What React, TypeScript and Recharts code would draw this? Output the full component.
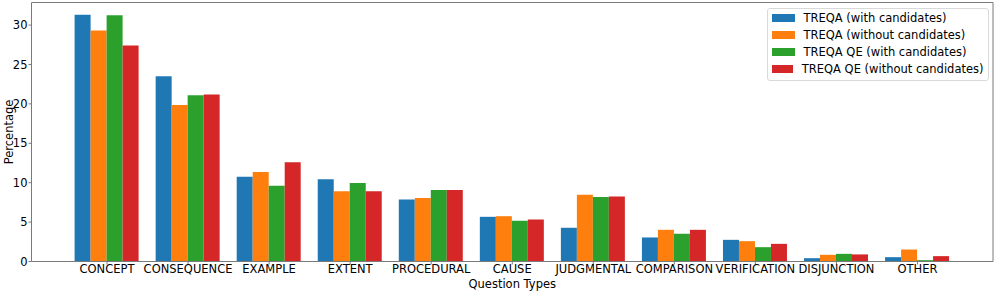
import { BarChart, Bar, XAxis, YAxis } from 'recharts';

const categories = [
  'CONCEPT', 'CONSEQUENCE', 'EXAMPLE', 'EXTENT', 'PROCEDURAL', 'CAUSE',
  'JUDGMENTAL', 'COMPARISON', 'VERIFICATION', 'DISJUNCTION', 'OTHER',
];
const treqaWith = [31.3, 23.5, 10.75, 10.45, 7.87, 5.67, 4.28, 3.05, 2.75, 0.42, 0.55];
const treqaWithout = [29.3, 19.86, 11.35, 8.93, 8.05, 5.75, 8.47, 4.02, 2.58, 0.85, 1.52];
const qeWith = [31.25, 21.08, 9.6, 9.95, 9.06, 5.17, 8.17, 3.52, 1.82, 0.97, 0.17];
const qeWithout = [27.4, 21.2, 12.6, 8.93, 9.06, 5.33, 8.25, 4.02, 2.24, 0.9, 0.68];
const yTicks = [0, 5, 10, 15, 20, 25, 30];

const series = [
  { key: 'a', name: 'TREQA (with candidates)', color: '#1f77b4', values: treqaWith },
  { key: 'b', name: 'TREQA (without candidates)', color: '#ff7f0e', values: treqaWithout },
  { key: 'c', name: 'TREQA QE (with candidates)', color: '#2ca02c', values: qeWith },
  { key: 'd', name: 'TREQA QE (without candidates)', color: '#d62728', values: qeWithout },
];

const data = categories.map((name, i) => {
  const row: Record<string, string | number> = { name };
  series.forEach((s) => (row[s.key] = s.values[i]));
  return row;
});

const yMax = Math.max(...series.flatMap((s) => s.values)) * 1.05;
const font = '"DejaVu Sans", sans-serif';
const axisColor = '#7a7a7a';

// matplotlib-style legend box, top right inside the axes
function LegendBox() {
  return (
    <div
      style={{
        position: 'absolute',
        left: 766.5,
        top: 7.5,
        width: 222,
        border: '1px solid #d9d9d9',
        borderRadius: 3,
        background: '#fff',
        padding: '1px 4px 2px 4px',
        fontFamily: font,
        fontSize: 11.5,
        color: '#000',
        boxSizing: 'border-box',
        whiteSpace: 'nowrap',
      }}
    >
      {series.map((s) => (
        <div key={s.key} style={{ display: 'flex', alignItems: 'center', height: 17 }}>
          <span style={{ width: 23, height: 8, background: s.color, marginRight: 9, display: 'inline-block' }} />
          <span>{s.name}</span>
        </div>
      ))}
    </div>
  );
}

function YLabel(props: any) {
  const vb = props.viewBox || { x: 0, y: 0, width: 0, height: 0 };
  const cx = 8.5;
  const cy = vb.y + vb.height / 2;
  return (
    <text
      x={cx}
      y={cy}
      transform={`rotate(-90 ${cx} ${cy})`}
      textAnchor="middle"
      dominantBaseline="central"
      fontFamily={font}
      fontSize={11.5}
      fill="#000"
    >
      Percentage
    </text>
  );
}

export default function App() {
  return (
    <div style={{ position: 'absolute', left: 0, top: 0, width: 997, height: 291, background: '#fff' }}>
      <style>{'body{margin:0;background:#fff}'}</style>
      <BarChart
        width={997}
        height={291}
        data={data}
        margin={{ top: 1.5, right: 3, left: 0, bottom: 0 }}
        barCategoryGap="10%"
        barGap={0}
      >
        <XAxis
          dataKey="name"
          height={29.5}
          padding={{ left: 35, right: 35 }}
          interval={0}
          tickSize={3}
          tickMargin={0}
          tickLine={{ stroke: axisColor }}
          axisLine={{ stroke: axisColor }}
          tick={{ fontFamily: font, fontSize: 11.5, fill: '#000' }}
          label={{ value: 'Question Types', position: 'insideBottom', offset: 3, style: { fontFamily: font, fontSize: 11.5, fill: '#000' } }}
        />
        <XAxis
          xAxisId="top"
          dataKey="name"
          orientation="top"
          height={1}
          tick={false}
          tickLine={false}
          axisLine={{ stroke: axisColor }}
        />
        <YAxis
          width={31.5}
          domain={[0, yMax]}
          ticks={yTicks}
          tickSize={3}
          tickMargin={1}
          tickLine={{ stroke: axisColor }}
          axisLine={{ stroke: axisColor }}
          tick={{ fontFamily: font, fontSize: 11.5, fill: '#000' }}
          label={<YLabel />}
        />
        <YAxis
          yAxisId="right"
          orientation="right"
          width={1}
          domain={[0, yMax]}
          tick={false}
          tickLine={false}
          axisLine={{ stroke: axisColor }}
        />
        {series.map((s) => (
          <Bar key={s.key} dataKey={s.key} name={s.name} fill={s.color} isAnimationActive={false} />
        ))}
      </BarChart>
      <LegendBox />
    </div>
  );
}
